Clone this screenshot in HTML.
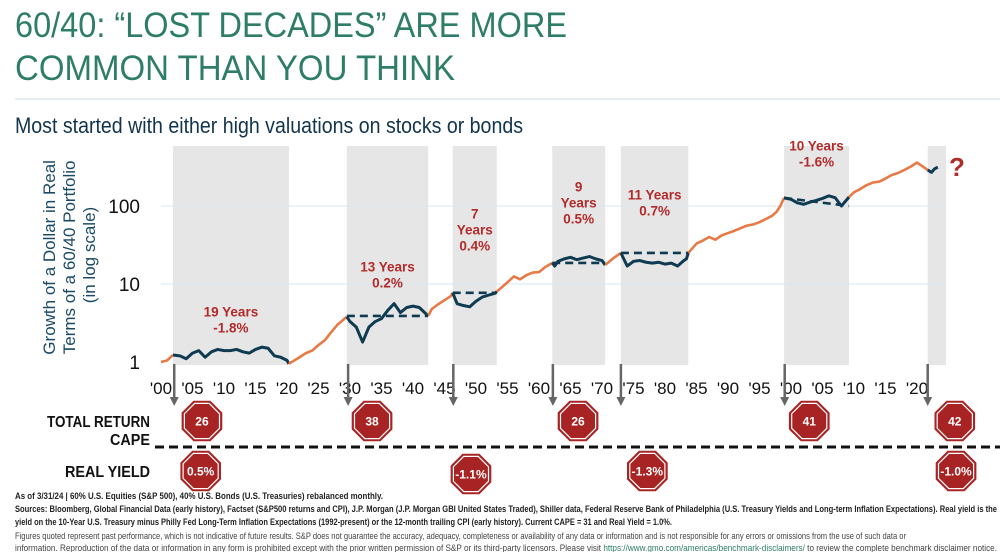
<!DOCTYPE html>
<html><head><meta charset="utf-8">
<style>
html,body{margin:0;padding:0;background:#fff;}
svg{display:block;font-family:"Liberation Sans Narrow","Liberation Sans",sans-serif;}
</style></head>
<body>
<svg id="chart" width="1000" height="552" viewBox="0 0 1000 552">
  <g>
    <text x="15" y="37" font-size="35" fill="#2e7d68" textLength="552" lengthAdjust="spacingAndGlyphs">60/40: “LOST DECADES” ARE MORE</text>
    <text x="15" y="80" font-size="35" fill="#2e7d68" textLength="440" lengthAdjust="spacingAndGlyphs">COMMON THAN YOU THINK</text>
    <line x1="15" y1="99" x2="1000" y2="99" stroke="#dde6ea" stroke-width="1.5"/>
    <text x="15" y="133" font-size="22" fill="#12344d" textLength="508" lengthAdjust="spacingAndGlyphs">Most started with either high valuations on stocks or bonds</text>
  </g>
  <g id="bands"></g>
  <g id="grid"></g>
  <g id="yaxis"></g>
  <text transform="translate(75,255) rotate(-90)" text-anchor="middle" font-size="17" fill="#1a4a66">
    <tspan x="0" y="-20">Growth of a Dollar in Real</tspan>
    <tspan x="0" y="0">Terms of a 60/40 Portfolio</tspan>
    <tspan x="0" y="20">(in log scale)</tspan>
  </text>
  <g id="xaxis"></g>
  <g id="series"></g>
  <g id="labels"></g>
  <text x="957" y="176" font-size="26" font-weight="bold" fill="#b22b2b" text-anchor="middle" font-family="Liberation Sans">?</text>
  <g id="arrows"></g>
  <g font-weight="bold" font-size="16" fill="#111" text-anchor="end">
    <text x="150" y="427" textLength="103" lengthAdjust="spacingAndGlyphs">TOTAL RETURN</text>
    <text x="150" y="445" textLength="40" lengthAdjust="spacingAndGlyphs">CAPE</text>
    <text x="150" y="477" textLength="85" lengthAdjust="spacingAndGlyphs">REAL YIELD</text>
  </g>
  <line x1="155" y1="447" x2="1000" y2="447" stroke="#111" stroke-width="3" stroke-dasharray="9,5"/>
  <g id="badges"></g>
  <g font-size="9.5" fill="#222">
    <text x="15" y="499" font-weight="bold" textLength="368" lengthAdjust="spacingAndGlyphs">As of 3/31/24 | 60% U.S. Equities (S&amp;P 500), 40% U.S. Bonds (U.S. Treasuries) rebalanced monthly.</text>
    <text x="15" y="512" font-weight="bold" textLength="982" lengthAdjust="spacingAndGlyphs">Sources: Bloomberg, Global Financial Data (early history), Factset (S&amp;P500 returns and CPI), J.P. Morgan (J.P. Morgan GBI United States Traded), Shiller data, Federal Reserve Bank of Philadelphia (U.S. Treasury Yields and Long-term Inflation Expectations). Real yield is the</text>
    <text x="15" y="525" font-weight="bold" textLength="657" lengthAdjust="spacingAndGlyphs">yield on the 10-Year U.S. Treasury minus Philly Fed Long-Term Inflation Expectations (1992-present) or the 12-month trailing CPI (early history). Current CAPE = 31 and Real Yield = 1.0%.</text>
    <text x="15" y="539" textLength="891" lengthAdjust="spacingAndGlyphs" fill="#444">Figures quoted represent past performance, which is not indicative of future results. S&amp;P does not guarantee the accuracy, adequacy, completeness or availability of any data or information and is not responsible for any errors or omissions from the use of such data or</text>
    <text x="15" y="551" textLength="982" lengthAdjust="spacingAndGlyphs" fill="#444">information. Reproduction of the data or information in any form is prohibited except with the prior written permission of S&amp;P or its third-party licensors. Please visit <tspan fill="#2e7d68" text-decoration="underline">https://www.gmo.com/americas/benchmark-disclaimers/</tspan> to review the complete benchmark disclaimer notice.</text>
  </g>
</svg>
<script>
const years = [1900,1901,1901.9,1903,1904,1905,1906,1907,1908,1909,1910,1911,1912,1913,1914,1915,1916,1917,1918,1919,1920,1920.3,1922,1923,1924,1925,1926,1927,1928,1929.5,1930,1931,1932,1933,1934,1935,1936,1937,1938,1939,1940,1941,1942.4,1943,1944,1945,1946,1946.3,1947,1948,1949,1950,1951,1952,1953,1953.3,1955,1956,1957,1958,1959,1960,1961,1962.1,1962.5,1963,1964,1965,1966,1967,1968,1969,1970,1970.5,1972,1973.0,1974,1975,1976,1977,1978,1979,1980,1981,1982,1983,1983.4,1983.7,1985,1986,1987,1988,1989,1990,1991,1992,1993,1994,1995,1996,1997,1997.7,1998.3,1998.9,2000,2001,2002,2003,2004,2005,2006,2007,2008,2009.2,2010,2011,2012,2013,2014,2015,2016,2017,2018,2019,2020,2021.7,2022.3,2022.8,2023.3,2024.5];
const values = [1.0,1.05,1.23,1.2,1.1,1.3,1.4,1.15,1.35,1.45,1.4,1.4,1.45,1.35,1.3,1.45,1.55,1.5,1.2,1.15,1.05,0.95,1.15,1.3,1.4,1.65,1.9,2.4,3.0,3.8,3.3,2.8,1.8,2.8,3.3,3.6,4.6,5.6,4.3,5.0,5.2,5.0,3.9,4.8,5.5,6.2,7.0,7.7,5.6,5.3,5.1,6.0,6.8,7.2,7.6,8.0,10.5,12.5,11.5,13,14,14.2,16.5,18.6,17,19.5,21,22,20.5,21.5,22.5,21,20,17.5,22,25,17,19.5,20,19,18.5,19,18,18.5,17,20,21,25,33,36,40,37,42,45,48,52,56,58,62,68,75,84,100,127,122,110,105,112,118,125,135,128,100,130,150,165,185,200,205,225,250,265,290,320,360,290,270,300,315];
const periodStart = [1901.9,1929.5,1946.3,1962.1,1973.0,1998.9,2021.7];
const periodEnd = [1920.3,1942.4,1953.3,1970.5,1983.7,2009.2,2024.6];
const bandStart = [1901.9,1929.5,1946.3,1962.1,1973.0,1998.9,2021.7];
const bandEnd = [1920.3,1942.4,1953.3,1970.5,1983.7,2009.2,2024.6];
const dashStartVal = [null,3.9,7.7,18.6,25,127,null];
const dashEndVal = [null,3.9,7.7,18.6,25,100,null];
const periodYears = ["19 Years","13 Years","7|Years","9|Years","11 Years","10 Years",""];
const periodReturns = ["-1.8%","0.2%","0.4%","0.5%","0.7%","-1.6%",""];
const labelValue = [2.4,9.0,27,60,75,320,0];
const yTicks = [1,10,100];
const xTickYears = [1900,1905,1910,1915,1920,1925,1930,1935,1940,1945,1950,1955,1960,1965,1970,1975,1980,1985,1990,1995,2000,2005,2010,2015,2020];
const arrowYears = [1902.1,1929.7,1946.4,1962.2,1973.0,1999.0,2021.7];
const capeValues = ["26","38","26","41","42"];
const capeYears = [1906.5,1933.5,1966.2,2002.9,2026.0];
const yieldValues = ["0.5%","-1.1%","-1.3%","-1.0%"];
const yieldYears = [1906.3,1949.2,1977.2,2026.2];

const NS="http://www.w3.org/2000/svg";
const X0=161,PXY=6.3;
function xs(yr){return X0+(yr-1900)*PXY;}
function ys(v){return 362-78*Math.log10(v);}
function mk(tag,attrs,parent){const e=document.createElementNS(NS,tag);for(const k in attrs)e.setAttribute(k,attrs[k]);parent.appendChild(e);return e;}

const bands=document.getElementById('bands');
bandStart.forEach((s,i)=>{
  const r=mk('rect',{x:xs(s),y:146,width:xs(bandEnd[i])-xs(s),height:219,fill:'#e6e6e6'},bands);
  
  
});
const grid=document.getElementById('grid');
yTicks.slice(1).forEach(t=>{
  const l=mk('line',{x1:161,x2:946,y1:ys(t),y2:ys(t),stroke:'#d6e8f0','stroke-width':1},grid);
  
  
});
const yax=document.getElementById('yaxis');
yTicks.forEach(t=>{
  const tx=mk('text',{x:140,y:ys(t)+7,'text-anchor':'end','font-size':19,fill:'#111'},yax);
  tx.textContent=String(t);
  
  
});
const xax=document.getElementById('xaxis');
xTickYears.forEach(yr=>{
  const tx=mk('text',{x:xs(yr),y:394,'text-anchor':'middle','font-size':17,fill:'#111'},xax);
  tx.textContent="'"+String(yr%100).padStart(2,'0');
  
  
});

const ser=document.getElementById('series');
function inPeriod(yr){for(let i=0;i<periodStart.length;i++){if(yr>=periodStart[i]&&yr<=periodEnd[i])return true;}return false;}
let seg=[[xs(years[0]),ys(values[0])]],segNavy=null;
function flush(navy){
  if(seg.length<2)return;
  const p=mk('polyline',{points:seg.map(p=>p.join(',')).join(' '),fill:'none',stroke:navy?'#0f3b52':'#e87a46','stroke-width':navy?3:2.6,'stroke-linejoin':'round'},ser);
  
  
}
for(let i=1;i<years.length;i++){
  const mid=(years[i]+years[i-1])/2;
  const navy=inPeriod(mid);
  if(segNavy===null)segNavy=navy;
  if(navy!==segNavy){flush(segNavy);seg=[seg[seg.length-1]];segNavy=navy;}
  seg.push([xs(years[i]),ys(values[i])]);
}
flush(segNavy);
dashStartVal.forEach((v,i)=>{
  if(v===null)return;
  const l=mk('line',{x1:xs(periodStart[i]),y1:ys(v),x2:xs(periodEnd[i]),y2:ys(dashEndVal[i]),stroke:'#0f3b52','stroke-width':2.6,'stroke-dasharray':'8,5'},ser);
  
  
});

const lab=document.getElementById('labels');
periodYears.forEach((py,i)=>{
  if(!py)return;
  const lines=py.split('|').concat([periodReturns[i]]);
  const cx=(xs(bandStart[i])+xs(bandEnd[i]))/2;
  const y0=ys(labelValue[i])-(lines.length-1)*16;
  const t=mk('text',{'text-anchor':'middle','font-size':13.5,'font-weight':'bold',fill:'#b22b2b'},lab);
  
  
  lines.forEach((ln,j)=>{const s=mk('tspan',{x:cx,y:y0+j*16},t);s.textContent=ln;});
});

const arr=document.getElementById('arrows');
arrowYears.forEach(yr=>{
  const x=xs(yr);
  const g=mk('g',{},arr);
  
  
  mk('line',{x1:x,y1:364,x2:x,y2:398,stroke:'#666','stroke-width':2.5},g);
  mk('polygon',{points:`${x-4.5},397 ${x+4.5},397 ${x},406`,fill:'#666'},g);
});

const bd=document.getElementById('badges');
function octo(cx,cy,r){const pts=[];for(let k=0;k<8;k++){const a=Math.PI/8+k*Math.PI/4;pts.push((cx+r*Math.cos(a)).toFixed(1)+','+(cy+r*Math.sin(a)).toFixed(1));}return pts.join(' ');}
function badge(cx,cy,txt,name){
  const g=mk('g',{},bd);
  
  
  mk('polygon',{points:octo(cx,cy,22),fill:'#a82424'},g);
  mk('polygon',{points:octo(cx,cy,19),fill:'none',stroke:'#fff','stroke-width':1.2},g);
  const t=mk('text',{x:cx,y:cy+4.5,'text-anchor':'middle','font-size':12,'font-weight':'bold',fill:'#fff'},g);
  t.textContent=txt;
}
capeValues.forEach((v,i)=>badge(xs(capeYears[i]),421,v,'cape-badge'));
yieldValues.forEach((v,i)=>badge(xs(yieldYears[i]),i===1?474:471,v,'real-yield-badge'));
</script>
</body></html>
